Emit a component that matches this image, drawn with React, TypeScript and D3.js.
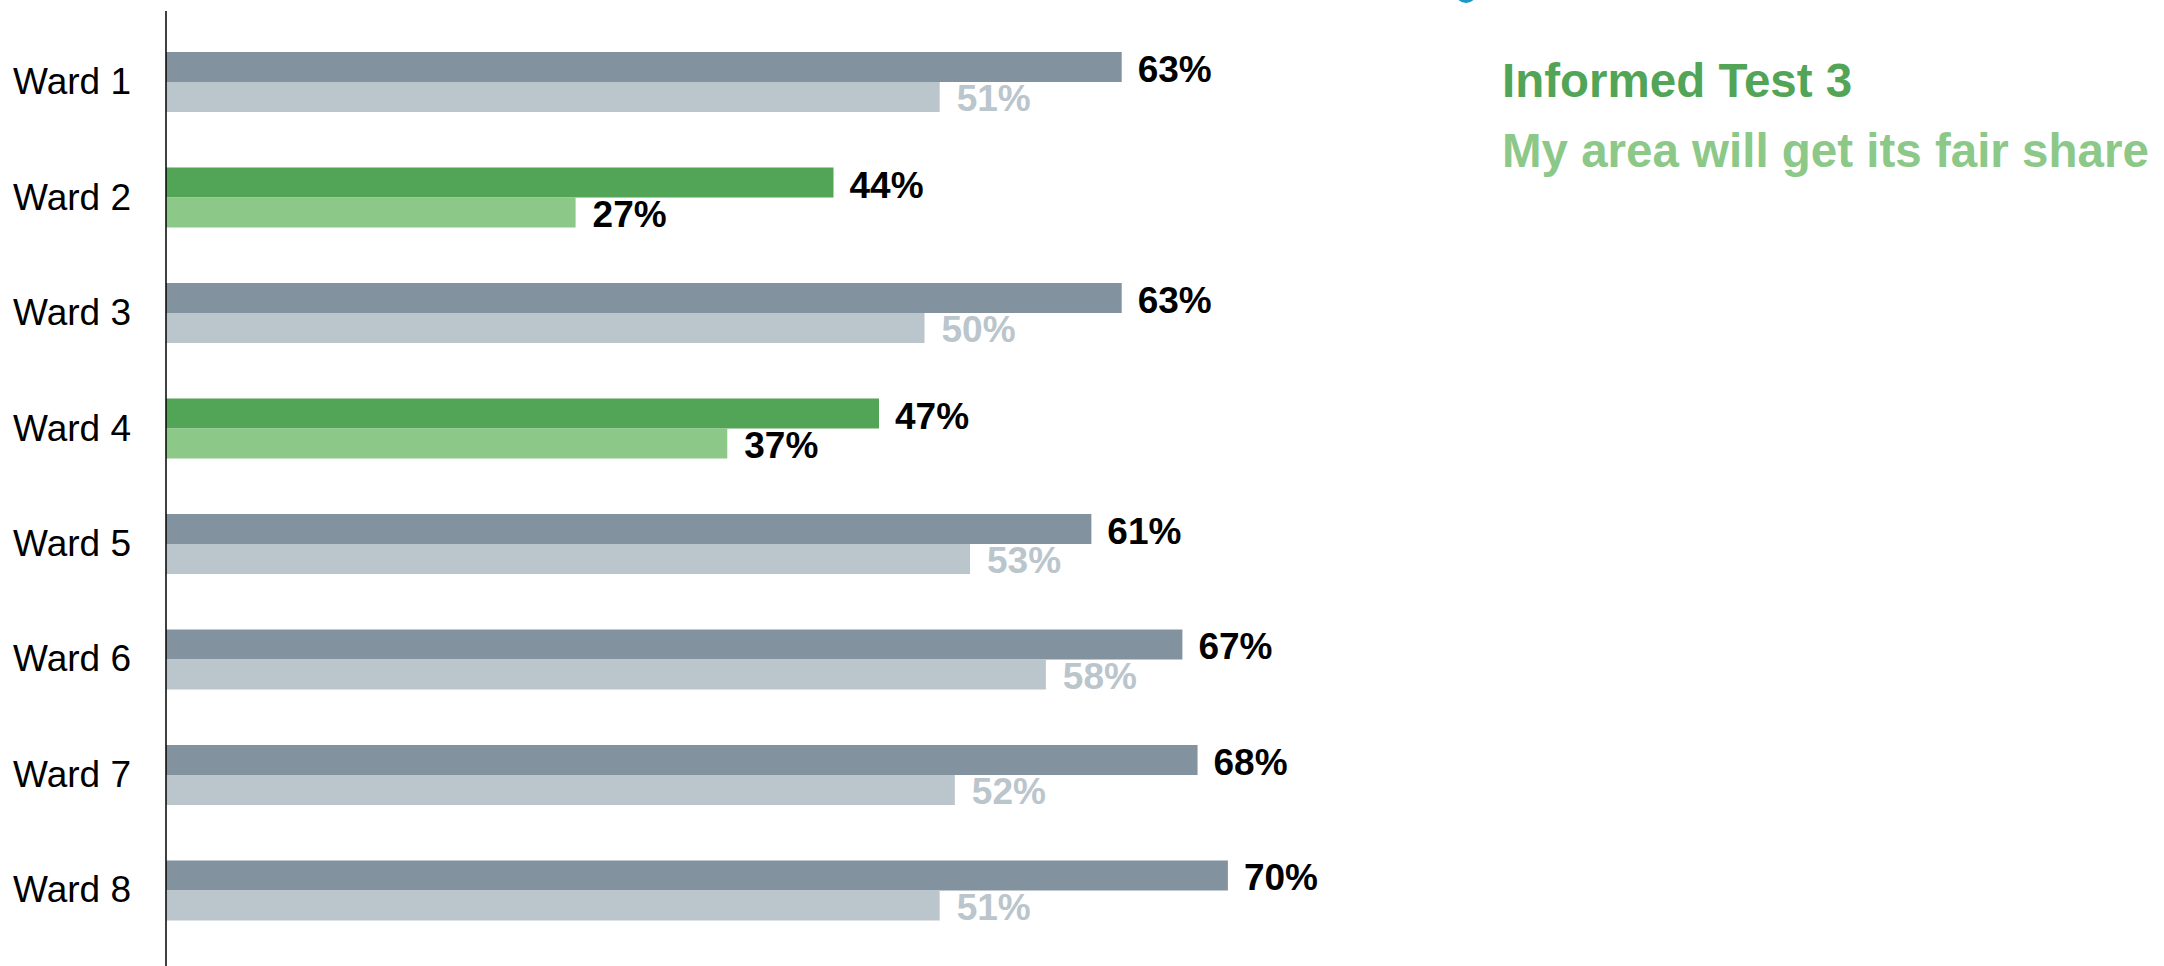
import React from "react";
import * as d3 from "d3";

const wards = ["Ward 1", "Ward 2", "Ward 3", "Ward 4", "Ward 5", "Ward 6", "Ward 7", "Ward 8"];
const informedTest3 = [63, 44, 63, 47, 61, 67, 68, 70];
const fairShare = [51, 27, 50, 37, 53, 58, 52, 51];
const highlighted = ["Ward 2", "Ward 4"];
const legendLabels = ["Informed Test 3", "My area will get its fair share"];

const W = 2164;
const H = 966;
const FONT = "'Liberation Sans', Arial, Helvetica, sans-serif";

const COLORS = {
  dark: "#82939f",
  light: "#bac5cc",
  greenDark: "#52a457",
  greenLight: "#8cc888",
  lightLabel: "#bac5cc",
};

export default function App() {
  const x = d3.scaleLinear().domain([0, 100]).range([166, 1683]);
  const y = d3.scaleBand<string>().domain(wards).range([52, 920.5]).paddingInner(0.4805).paddingOuter(0);
  const bh = y.bandwidth() / 2;

  return (
    <svg
      width={W}
      height={H}
      style={{ position: "absolute", left: 0, top: 0, display: "block", background: "#fff" }}
      fontFamily={FONT}
    >
      {/* partial blue mark at top */}
      <ellipse cx={1466} cy={-8} rx={11} ry={11} fill="#1a9bc6" />

      {wards.map((w, i) => {
        const y0 = y(w)!;
        const hl = highlighted.includes(w);
        const c1 = hl ? COLORS.greenDark : COLORS.dark;
        const c2 = hl ? COLORS.greenLight : COLORS.light;
        const v1 = informedTest3[i];
        const v2 = fairShare[i];
        return (
          <g key={w}>
            <rect x={x(0)} y={y0} width={x(v1) - x(0)} height={bh} fill={c1} />
            <rect x={x(0)} y={y0 + bh} width={x(v2) - x(0)} height={bh} fill={c2} />
            <text x={x(v1) + 16} y={y0 + bh} fontSize={37} fontWeight="bold" fill="#000">
              {v1}%
            </text>
            <text
              x={x(v2) + 17}
              y={y0 + 2 * bh - 1}
              fontSize={37}
              fontWeight="bold"
              fill={hl ? "#000" : COLORS.lightLabel}
            >
              {v2}%
            </text>
            <text x={131} y={y0 + bh + 12} fontSize={37} textAnchor="end" fill="#000">
              {w}
            </text>
          </g>
        );
      })}

      <line x1={166} x2={166} y1={11} y2={H} stroke="#000" strokeWidth={1.5} />

      <text x={1502} y={97} fontSize={47.5} fontWeight="bold" fill={COLORS.greenDark}>
        {legendLabels[0]}
      </text>
      <text x={1502} y={167} fontSize={47.5} fontWeight="bold" fill={COLORS.greenLight}>
        {legendLabels[1]}
      </text>
    </svg>
  );
}
